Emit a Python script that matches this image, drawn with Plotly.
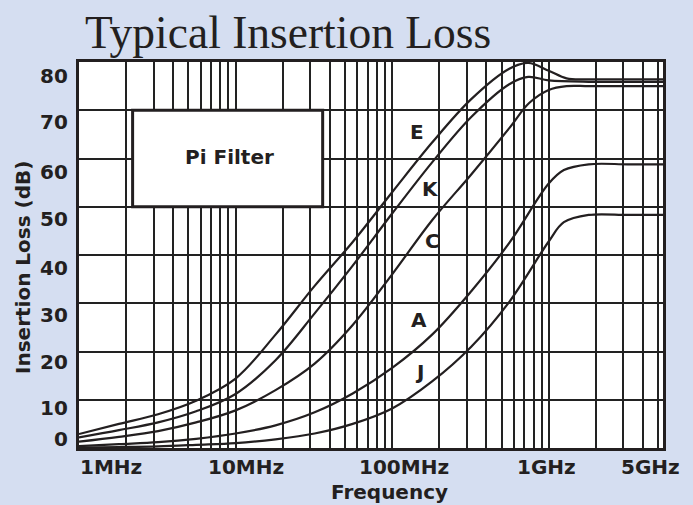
import math
import plotly.graph_objects as go

# ---------------- data (frequency in MHz, insertion loss in dB) ----------------
E_freq = [1, 1.8, 3.2, 5.6, 10, 18, 32, 56, 100, 180, 320, 560, 740, 1000, 1300, 1800, 3200, 5400]
E_loss = [2.9, 5.0, 7.0, 9.8, 14.4, 23.5, 33.6, 42.7, 53.0, 63.3, 72.3, 78.6, 79.8, 78.2, 76.6, 76.4, 76.4, 76.4]

K_freq = [1, 1.8, 3.2, 5.6, 10, 18, 32, 56, 100, 180, 320, 560, 740, 1000, 1800, 3200, 5400]
K_loss = [2.2, 3.7, 5.3, 7.6, 11.2, 18.2, 27.9, 37.8, 48.6, 59.2, 68.6, 75.4, 76.9, 76.2, 75.9, 75.9, 75.9]

C_freq = [1, 1.8, 3.2, 5.6, 10, 18, 32, 56, 100, 180, 320, 560, 750, 1000, 1300, 1800, 3200, 5400]
C_loss = [1.3, 2.3, 3.5, 5.3, 7.8, 12.0, 17.5, 25.5, 36.0, 47.2, 56.7, 66.3, 71.5, 74.2, 75.0, 75.0, 75.0, 75.0]

A_freq = [1, 1.8, 3.2, 5.6, 10, 18, 32, 56, 100, 180, 320, 560, 1000, 1250, 1800, 3200, 5400]
A_loss = [0.4, 0.8, 1.2, 1.9, 3.0, 4.7, 7.4, 11.3, 16.6, 23.5, 32.5, 42.5, 54.8, 57.6, 58.8, 58.8, 58.8]

J_freq = [1, 1.8, 3.2, 5.6, 10, 18, 32, 56, 100, 180, 320, 560, 1000, 1250, 1800, 3200, 5400]
J_loss = [0.1, 0.2, 0.35, 0.65, 1.0, 1.8, 3.0, 5.0, 8.2, 13.8, 21.0, 30.3, 42.8, 46.8, 48.3, 48.3, 48.3]

series_names = ["E", "K", "C", "A", "J"]
label_freq = [145, 175, 180, 149, 149]      # where the curve letters sit
label_loss = [65.5, 53.6, 43.0, 26.5, 15.7]

x_tick_vals = [1, 10, 100, 1000, 5000]
x_tick_text = ["1MHz", "10MHz", "100MHz", "1GHz", "5GHz"]
y_tick_vals = [0, 10, 20, 30, 40, 50, 60, 70, 80]

box_freq = [2.2, 36]
box_loss = [50, 70]
box_text = "Pi Filter"
box_text_freq = 9.2
box_text_loss = 60.3

# ---------------- styling ----------------
INK = "#231f20"
GRID = "#222222"
BG = "#d5def1"
SANS = "DejaVu Sans"
FS = 20

fig = go.Figure()
for f, l, n in zip([E_freq, K_freq, C_freq, A_freq, J_freq],
                   [E_loss, K_loss, C_loss, A_loss, J_loss], series_names):
    fig.add_trace(go.Scatter(x=f, y=l, mode="lines", name=n,
                             line=dict(color=INK, width=2.2, shape="spline", smoothing=1.0),
                             showlegend=False, hoverinfo="skip"))

# full log grid 1..9 per decade
grid_vals = []
for dec in [1, 10, 100, 1000]:
    for m in range(1, 10):
        v = m * dec
        if v <= 5000:
            grid_vals.append(v)

fig.update_xaxes(type="log", range=[0, 3.73], tickvals=grid_vals, showticklabels=False,
                 showgrid=True, gridcolor=GRID, gridwidth=1.5, ticks="",
                 showline=True, linecolor=INK, linewidth=3, mirror=True, zeroline=False)
fig.update_yaxes(range=[0, 80], tickvals=y_tick_vals, showticklabels=False,
                 showgrid=True, gridcolor=GRID, gridwidth=1.5, ticks="",
                 showline=True, linecolor=INK, linewidth=3, mirror=True, zeroline=False)

annotations = []
# curve letters
for n, f, l in zip(series_names, label_freq, label_loss):
    annotations.append(dict(x=math.log10(f), y=l, xref="x", yref="y", text=n, showarrow=False,
                            font=dict(family=SANS, size=FS, color=INK, weight="bold")))
# box text
annotations.append(dict(x=math.log10(box_text_freq), y=box_text_loss, xref="x", yref="y", text=box_text,
                        showarrow=False, font=dict(family=SANS, size=FS, color=INK, weight="bold")))
# x tick labels
x_shifts = [32, 10, 12, -2, -8]
for v, t, s in zip(x_tick_vals, x_tick_text, x_shifts):
    annotations.append(dict(x=math.log10(v), y=-0.049, xref="x", yref="paper", text=t, showarrow=False,
                            xshift=s, xanchor="center", yanchor="middle",
                            font=dict(family=SANS, size=FS, color=INK, weight="bold")))
# y tick labels
y_shifts = [9, -8, -10, -12, -13, -12, -13, -12, -14]
for v, s in zip(y_tick_vals, y_shifts):
    annotations.append(dict(x=0, y=v, xref="paper", yref="y", text=str(v), showarrow=False,
                            xanchor="right", xshift=-9, yshift=s, yanchor="middle",
                            font=dict(family=SANS, size=FS, color=INK, weight="bold")))
# axis titles
annotations.append(dict(x=0.5325, y=-0.113, xref="paper", yref="paper", text="Frequency", showarrow=False,
                        xanchor="center", yanchor="middle",
                        font=dict(family=SANS, size=FS, color=INK, weight="bold")))
annotations.append(dict(x=-(79 - 22.5) / 584, y=0.4676, xref="paper", yref="paper",
                        text="Insertion Loss (dB)", showarrow=False, textangle=-90,
                        xanchor="center", yanchor="middle",
                        font=dict(family=SANS, size=FS, color=INK, weight="bold")))
# title
annotations.append(dict(x=0.006, y=1.004, xref="paper", yref="paper", text="Typical Insertion Loss",
                        showarrow=False, xanchor="left", yanchor="bottom",
                        font=dict(family="Liberation Serif", size=45.5, color=INK)))

fig.update_layout(
    width=693, height=505,
    margin=dict(l=79, r=30, t=62, b=57),
    paper_bgcolor=BG, plot_bgcolor="white",
    annotations=annotations,
    shapes=[dict(type="rect", xref="x", yref="y", x0=box_freq[0], x1=box_freq[1],
                 y0=box_loss[0], y1=box_loss[1], fillcolor="white",
                 line=dict(color=INK, width=3), layer="above")],
)

fig.write_html("out.html", config={"displayModeBar": False},
               post_script="document.body.style.margin='0px';document.body.style.padding='0px';")
